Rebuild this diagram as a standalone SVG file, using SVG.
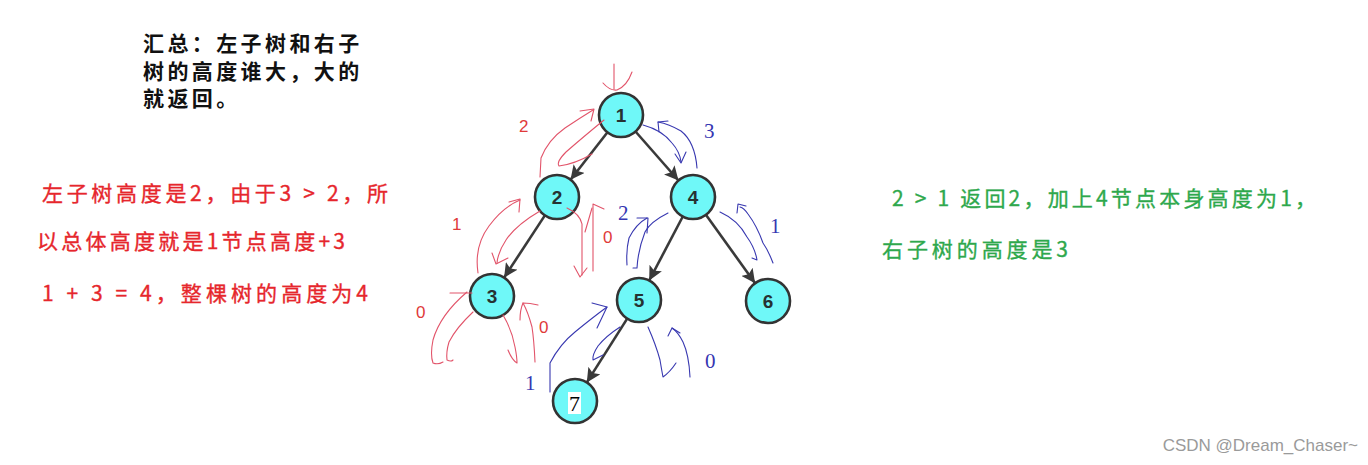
<svg xmlns="http://www.w3.org/2000/svg" width="1368" height="465" viewBox="0 0 1368 465">
<style>
.node circle{fill:#6ff8f8;stroke:#333;stroke-width:2.6}
.node text{font-family:"Liberation Sans",Arial,sans-serif;font-weight:bold;font-size:19px;fill:#263232;text-anchor:middle}
.edge{stroke:#3a3a3a;stroke-width:2.6;fill:none;marker-end:url(#ah)}
.cn{font-family:"Noto Sans CJK SC",sans-serif}
.red{fill:#e6262c;stroke:#e6262c;stroke-width:0.35}
.green{fill:#2ea84c;stroke:#2ea84c;stroke-width:0.35}
.rs{fill:none;stroke:#e2546a;stroke-width:1.1;stroke-linecap:round;stroke-linejoin:round}
.bs{fill:none;stroke:#3838b0;stroke-width:1.1;stroke-linecap:round;stroke-linejoin:round}
.rn{font-family:"Liberation Sans",Arial,sans-serif;font-size:17px;fill:#e03a3a}
.bn{font-family:"Liberation Serif","Times New Roman",serif;font-size:21px;fill:#3636b2}
</style>
<defs>
<marker id="ah" markerUnits="userSpaceOnUse" markerWidth="16" markerHeight="14" refX="14" refY="7" orient="auto">
<path d="M0,0 L14,7 L0,14 L3,7 Z" fill="#3a3a3a"/>
</marker>
</defs>
<rect width="1368" height="465" fill="#fff"/>

<g id="text-summary" class="cn" font-size="21" font-weight="bold" fill="#111" letter-spacing="3.4">
<text x="143" y="51">汇总：左子树和右子</text>
<text x="143" y="79">树的高度谁大，大的</text>
<text x="143" y="106">就返回。</text>
</g>

<g id="text-left" class="cn red" font-size="21">
<text x="42" y="201" textLength="346" lengthAdjust="spacing">左子树高度是2，由于3 &gt; 2，所</text>
<text x="37" y="249" textLength="308" lengthAdjust="spacing">以总体高度就是1节点高度+3</text>
<text x="42" y="301" textLength="326" lengthAdjust="spacing">1 + 3 = 4，整棵树的高度为4</text>
</g>

<g id="text-right" class="cn green" font-size="21">
<text x="892" y="206" textLength="424" lengthAdjust="spacing">2 &gt; 1 返回2，加上4节点本身高度为1，</text>
<text x="882" y="257" textLength="186" lengthAdjust="spacing">右子树的高度是3</text>
</g>

<g id="connectors">
<line class="edge" x1="607.5" y1="132.3" x2="570.5" y2="179.7"/>
<line class="edge" x1="635.5" y1="131.5" x2="678.5" y2="180.5"/>
<line class="edge" x1="544.9" y1="215.4" x2="504.1" y2="277.6"/>
<line class="edge" x1="682.8" y1="216.5" x2="649.2" y2="280.5"/>
<line class="edge" x1="705.9" y1="214.8" x2="755.1" y2="283.2"/>
<line class="edge" x1="627.2" y1="318.6" x2="586.8" y2="382.4"/>
</g>

<g id="node-1" class="node"><circle cx="621" cy="115" r="22"/><text x="621" y="122">1</text></g>
<g id="node-2" class="node"><circle cx="557" cy="197" r="22"/><text x="557" y="204">2</text></g>
<g id="node-4" class="node"><circle cx="693" cy="197" r="22"/><text x="693" y="204">4</text></g>
<g id="node-3" class="node"><circle cx="492" cy="296" r="22"/><text x="492" y="303">3</text></g>
<g id="node-5" class="node"><circle cx="639" cy="300" r="22"/><text x="639" y="307">5</text></g>
<g id="node-6" class="node"><circle cx="768" cy="301" r="22"/><text x="768" y="308">6</text></g>
<g id="node-7" class="node"><circle cx="575" cy="401" r="22"/><rect x="568" y="392" width="13" height="22" fill="#fff"/><text x="574.5" y="411" style="font-family:'Liberation Serif',serif;font-weight:normal;font-size:22px;fill:#000">7</text></g>

<g id="red-annotations">
<path class="rs" d="M614,64 L614,89"/>
<path class="rs" d="M603,83 Q610,91 617,90 Q627,86 632,72"/>
<path class="rs" d="M540,177 L541,158 Q548,140 565,128 Q580,118 593,110"/>
<path class="rs" d="M580,111 L594,109 L591,121"/>
<path class="rs" d="M604,120 Q582,138 566,152 Q556,162 559,166 Q575,164 592,154"/>
<path class="rs" d="M478,273 Q474,246 489,226 Q503,207 520,200"/>
<path class="rs" d="M509,202 L520,199 L519,212"/>
<path class="rs" d="M540,211 Q516,225 506,240 Q498,252 497,263"/>
<path class="rs" d="M492,253 L496,264 L508,258"/>
<path class="rs" d="M567,208 Q580,214 582,224 L582,275"/>
<path class="rs" d="M574,266 L580,277 L587,268"/>
<path class="rs" d="M593,271 L593,204 L604,209"/>
<path class="rs" d="M585,232 L592,208"/>
<path class="rs" d="M450,293 L472,293"/>
<path class="rs" d="M467,292 Q440,315 433,340 Q430,355 433,363 Q438,365 443,362"/>
<path class="rs" d="M473,312 Q456,328 449,342 Q446,352 447,360 Q451,362 453,360"/>
<path class="rs" d="M503,315 Q512,330 515,347 Q517,357 517,363 Q512,360 508,350"/>
<path class="rs" d="M535,362 Q534,340 532,327 Q528,312 523,303"/>
<path class="rs" d="M520,320 Q520,310 523,303 Q530,303 538,305"/>
</g>

<g id="blue-annotations">
<path class="bs" d="M643,125 Q662,130 672,143 Q680,152 681,162"/>
<path class="bs" d="M675,154 L681,163 L686,152"/>
<path class="bs" d="M697,168 Q695,142 681,131 Q669,124 658,122"/>
<path class="bs" d="M659,132 L658,122 L668,121"/>
<path class="bs" d="M668,213 Q650,222 645,232 Q638,250 637,268 L633,268"/>
<path class="bs" d="M627,265 Q626,250 629,238 Q636,224 647,218"/>
<path class="bs" d="M637,218 L648,218 L647,233"/>
<path class="bs" d="M720,212 Q738,220 747,237 Q755,248 757,260 L752,258"/>
<path class="bs" d="M773,263 Q768,250 763,243 Q757,226 748,214 Q744,208 740,207"/>
<path class="bs" d="M737,213 L738,204 L746,206"/>
<path class="bs" d="M550,392 L550,363 Q560,344 575,332 Q592,318 607,307"/>
<path class="bs" d="M592,303 L607,307 L597,328"/>
<path class="bs" d="M620,327 Q606,336 598,346 Q592,355 593,360 L603,355"/>
<path class="bs" d="M648,327 Q656,345 660,360 Q662,372 663,377 Q670,372 676,363"/>
<path class="bs" d="M690,377 Q689,355 683,342 Q678,332 672,328"/>
<path class="bs" d="M668,336 L672,328 L680,333"/>
</g>

<g id="labels">
<text class="rn" x="519" y="132">2</text>
<text class="rn" x="452" y="230">1</text>
<text class="rn" x="603" y="243">0</text>
<text class="rn" x="416" y="318">0</text>
<text class="rn" x="539" y="333">0</text>
<text class="bn" x="704" y="138">3</text>
<text class="bn" x="618" y="220">2</text>
<text class="bn" x="770" y="233">1</text>
<text class="bn" x="525" y="390">1</text>
<text class="bn" x="705" y="368">0</text>
</g>

<text x="1358" y="451" text-anchor="end" font-family="'Liberation Sans',Arial,sans-serif" font-size="17" fill="#9a9a9a">CSDN @Dream_Chaser~</text>
</svg>
